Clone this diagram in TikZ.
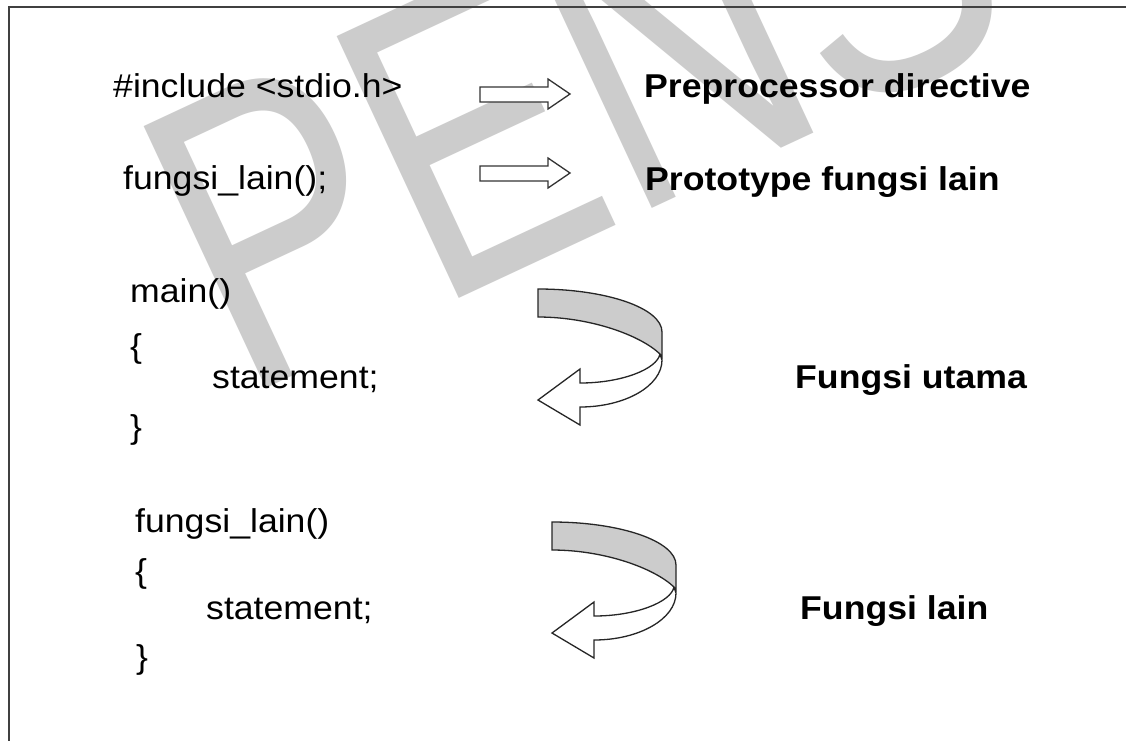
\documentclass[tikz,border=0pt]{standalone}
\usepackage{fontspec}
\setmainfont{Liberation Sans}[FakeStretch=1.08]
\newfontfamily\wmfont{Liberation Sans}
\begin{document}
\begin{tikzpicture}[x=1pt,y=-1pt,
  code/.style={anchor=base west,inner sep=0pt,font=\fontsize{33}{40}\selectfont},
  label/.style={anchor=base west,inner sep=0pt,font=\fontsize{33}{40}\selectfont\bfseries},
  blockarrow/.style={draw=black!80,line width=1.3pt,fill=white,line join=miter},
  curvearrow/.style={draw=black!85,line width=1.3pt,line join=miter},
  wm/.style={anchor=base west,inner sep=0pt,text=black!20,font=\fontsize{420}{420}\wmfont}]
\useasboundingbox (0,0) rectangle (1126,740);
\clip (0,0) rectangle (1126,740);
\fill[white] (0,0) rectangle (1126,740);
% watermark
\node[wm,rotate=25,xscale=0.76] (wmark) at (242,400) {PENS};
% frame
\draw[line width=2.2pt,draw=black!75] (1140,7) -- (9,7) -- (9,760);
% left code
\node[code] (inc) at (113,97) {\#include <stdio.h>};
\node[code] (proto) at (123,189) {fungsi\_lain();};
\node[code] (main) at (130,302) {main()};
\node[code] (ob1) at (130,357) {\{};
\node[code] (st1) at (212,388) {statement;};
\node[code] (cb1) at (130,438) {\}};
\node[code] (fl) at (135,532) {fungsi\_lain()};
\node[code] (ob2) at (135,582) {\{};
\node[code] (st2) at (206,619) {statement;};
\node[code] (cb2) at (136,668) {\}};
% right labels
\node[label] (pp) at (644,97) {Preprocessor directive};
\node[label] (pt) at (645,190) {Prototype fungsi lain};
\node[label] (fu) at (795,388) {Fungsi utama};
\node[label] (fo) at (800,619) {Fungsi lain};
% straight block arrows
\draw[blockarrow] (480,87) -- (548,87) -- (548,79) -- (570,94) -- (548,109) -- (548,102) -- (480,102) -- cycle;
\draw[blockarrow] (480,166) -- (548,166) -- (548,158) -- (570,173) -- (548,188) -- (548,181) -- (480,181) -- cycle;
% curved arrows
\foreach \dx/\dy in {0/0,14/233}{
\begin{scope}[shift={(\dx,\dy)}]
\draw[curvearrow,fill=white] (660,354) .. controls (657,369) and (622,383) .. (580,383) -- (580,369) -- (538,400) -- (580,425) -- (580,407) .. controls (625,407) and (662,386) .. (662,360) -- cycle;
\draw[curvearrow,fill=black!20] (538,289) .. controls (606,289) and (662,308) .. (662,332) -- (662,357) -- (660,354) .. controls (640,335) and (590,317) .. (538,317) -- cycle;
\end{scope}
}
\end{tikzpicture}
\end{document}
